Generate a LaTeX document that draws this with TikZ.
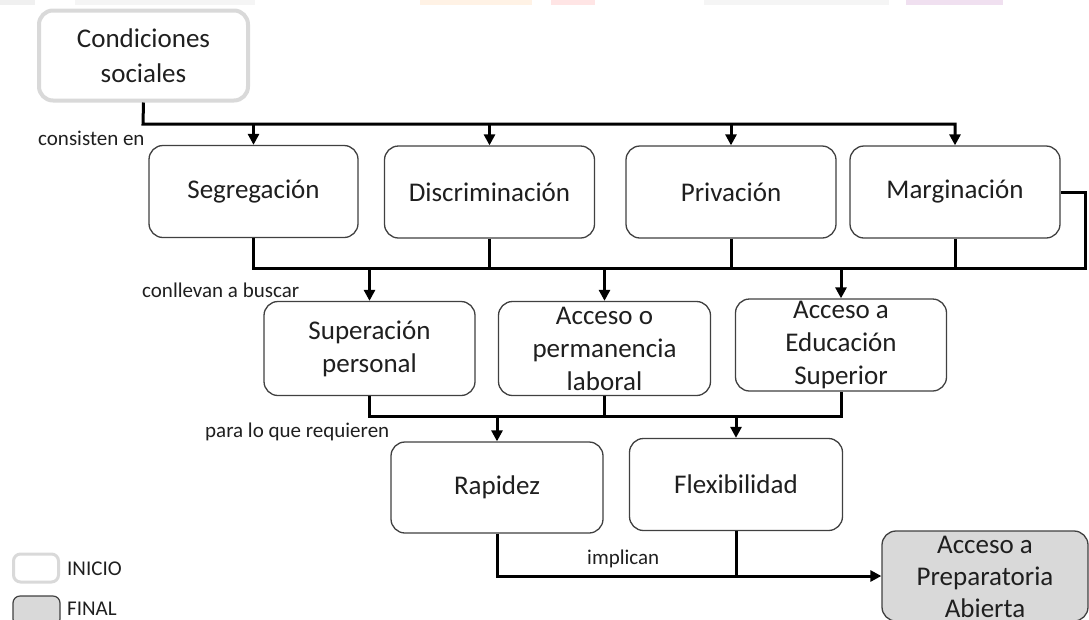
\documentclass[tikz,border=0pt]{standalone}
\usepackage{fontspec}
\setmainfont{Carlito}
\usetikzlibrary{arrows.meta}
\definecolor{startgray}{HTML}{D9D9D9}
\definecolor{boxline}{HTML}{404040}
\definecolor{txt}{HTML}{1F1F1F}
\begin{document}
\begin{tikzpicture}[x=1pt,y=-1pt,
  box/.style={draw=boxline, line width=1.3pt, rounded corners=14pt, fill=white,
    align=center, text=txt, inner sep=0pt,
    font=\fontsize{27}{33}\selectfont},
  startbox/.style={box, draw=startgray, line width=4pt},
  finalbox/.style={box, fill=startgray},
  conn/.style={line width=3pt, draw=black},
  arr/.style={-{Triangle[length=11pt,width=11pt]}},
  lbl/.style={anchor=base west, text=txt, inner sep=0pt,
    font=\fontsize{21}{25}\selectfont},
  legend/.style={anchor=base west, text=txt, inner sep=0pt,
    font=\fontsize{21}{25}\selectfont},
  banner/.style={draw=none}]
\useasboundingbox (0,0) rectangle (1089,619);
% faint banner at top
\fill[banner, fill=gray!12] (0,0) rectangle (35,5);
\fill[banner, fill=gray!8] (75,0) rectangle (255,5);
\fill[banner, fill=orange!10] (420,0) rectangle (532,5);
\fill[banner, fill=red!10] (551,0) rectangle (595,5);
\fill[banner, fill=gray!8] (704,0) rectangle (889,5);
\fill[banner, fill=violet!12] (906,0) rectangle (1003,5);

% nodes
\node[startbox, minimum width=209, minimum height=90, font=\fontsize{27}{35}\selectfont] (cond) at (143.5,55.5) {Condiciones\\sociales};

\node[box, minimum width=209, minimum height=92] (seg) at (253.5,191.5) {Segregación};
\node[box, minimum width=210, minimum height=92] (disc) at (489.5,192) {Discriminación};
\node[box, minimum width=210, minimum height=92] (priv) at (731,192) {Privación};
\node[box, minimum width=210, minimum height=92] (marg) at (955,192) {Marginación};

\node[box, minimum width=211, minimum height=94] (sup) at (369.5,348.5) {Superación\\personal};
\node[box, minimum width=212, minimum height=94] (acc) at (604.5,348.5) {Acceso o\\permanencia\\laboral};
\node[box, minimum width=211, minimum height=92] (edu) at (841,345) {Acceso a\\Educación\\Superior};

\node[box, minimum width=212, minimum height=91] (rap) at (497,487.5) {Rapidez};
\node[box, minimum width=213, minimum height=92] (flex) at (736,484.5) {Flexibilidad};

\node[finalbox, minimum width=206, minimum height=90] (fin) at (985,576) {};
\node[align=center, text=txt, inner sep=0pt, font=\fontsize{27}{32}\selectfont] (fint) at (985,577) {Acceso a\\Preparatoria\\Abierta};

% legend
\node[startbox, line width=3pt, rounded corners=7pt, minimum width=45, minimum height=28] (lgi) at (36,568) {};
\node[legend] (lgit) at (67,575) {INICIO};
\node[finalbox, line width=1.2pt, rounded corners=7pt, minimum width=47, minimum height=30] (lgf) at (36.5,611) {};
\node[legend] (lgft) at (67,615) {FINAL};

% junction coordinates
\coordinate (b1) at (143,124);
\coordinate (b2) at (0,268);
\coordinate (rt) at (1085,268);
\coordinate (b3) at (0,416);

% level 1
\draw[conn,arr] (cond.south) -- (b1) -- (marg.north |- b1) -- (marg.north);
\draw[conn,arr] (seg.north |- b1) -- (seg.north);
\draw[conn,arr] (disc.north |- b1) -- (disc.north);
\draw[conn,arr] (priv.north |- b1) -- (priv.north);
\node[lbl] (l1) at (38,145) {consisten en};

% level 2
\draw[conn] (seg.south) -- (seg.south |- b2) -- (rt) |- (marg.east);
\draw[conn] (disc.south) -- (disc.south |- b2);
\draw[conn] (priv.south) -- (priv.south |- b2);
\draw[conn] (marg.south) -- (marg.south |- b2);
\draw[conn,arr] (sup.north |- b2) -- (sup.north);
\draw[conn,arr] (acc.north |- b2) -- (acc.north);
\draw[conn,arr] (edu.north |- b2) -- (edu.north);
\node[lbl] (l2) at (142,297) {conllevan a buscar};

% level 3
\draw[conn] (sup.south) -- (sup.south |- b3) -- (edu.south |- b3) -- (edu.south);
\draw[conn] (acc.south) -- (acc.south |- b3);
\draw[conn,arr] (rap.north |- b3) -- (rap.north);
\draw[conn,arr] (flex.north |- b3) -- (flex.north);
\node[lbl] (l3) at (205,437) {para lo que requieren};

% level 4
\draw[conn,arr] (rap.south) |- (fin.west);
\draw[conn] (flex.south) -- (flex.south |- fin.west);
\node[lbl] (l4) at (587,564) {implican};
\end{tikzpicture}
\end{document}
